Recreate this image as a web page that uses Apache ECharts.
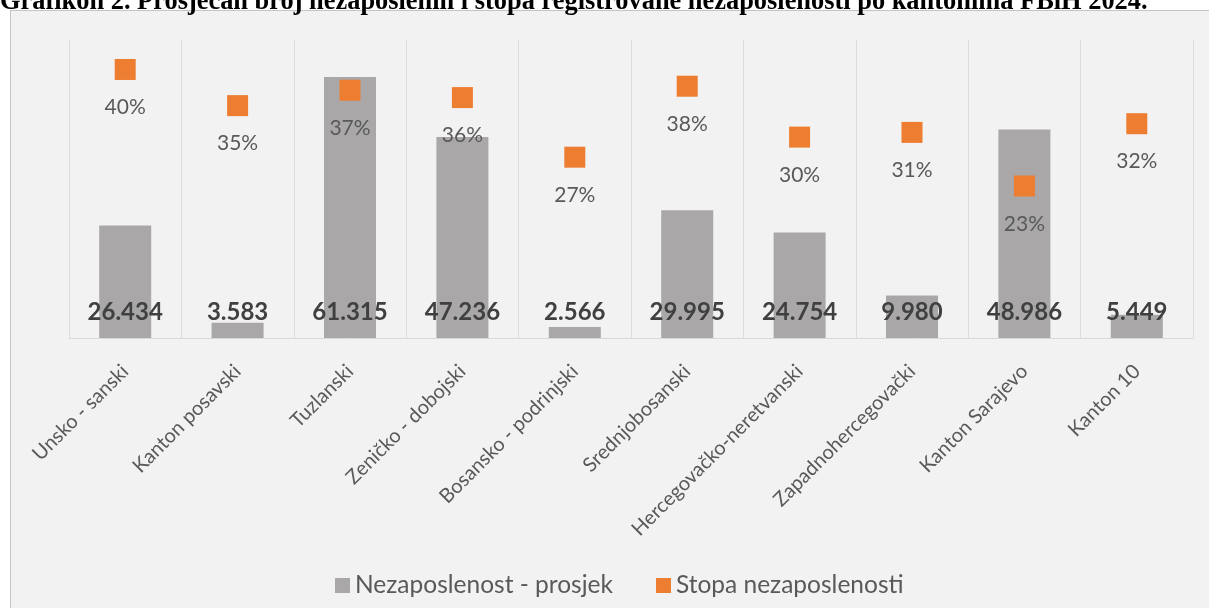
<!DOCTYPE html>
<html>
<head>
<meta charset="utf-8">
<script src="https://cdn.jsdelivr.net/npm/echarts@6/dist/echarts.min.js"></script>
<style>
html, body { margin: 0; padding: 0; background: #ffffff; }
#box { position: absolute; left: 10px; top: 10px; width: 1220px; height: 620px; background: #f2f2f2; border: 1px solid #c4c4c4; box-sizing: border-box; }
#chart { position: absolute; left: 0; top: 0; width: 1209px; height: 608px; }
</style>
</head>
<body>
<div id="box"></div>
<div id="chart"></div>
<script>
const titleText = 'Grafikon 2. Prosječan broj nezaposlenih i stopa registrovane nezaposlenosti po kantonima FBiH 2024.';
const categories = ['Unsko - sanski', 'Kanton posavski', 'Tuzlanski', 'Zeničko - dobojski', 'Bosansko - podrinjski', 'Srednjobosanski', 'Hercegovačko-neretvanski', 'Zapadnohercegovački', 'Kanton Sarajevo', 'Kanton 10'];
const unemployedAvg = [26434, 3583, 61315, 47236, 2566, 29995, 24754, 9980, 48986, 5449];
const unemploymentRate = [0.401, 0.347, 0.370, 0.359, 0.270, 0.376, 0.300, 0.307, 0.227, 0.320];
const seriesNames = ['Nezaposlenost - prosjek', 'Stopa nezaposlenosti'];

const FONT = 'Lato, "Open Sans", sans-serif';
function fmtThousands(v) {
  return String(v).replace(/\B(?=(\d{3})+(?!\d))/g, '.');
}

const chart = echarts.init(document.getElementById('chart'), null, { renderer: 'canvas' });
chart.setOption({
  backgroundColor: 'transparent',
  animation: false,
  graphic: [{
    type: 'text',
    left: 0,
    top: -11,
    style: {
      text: titleText,
      font: 'bold 26.4px "Liberation Serif", "Times New Roman", serif',
      fill: '#000000'
    }
  }],
  legend: {
    left: 330,
    top: 568,
    itemWidth: 15,
    itemHeight: 15,
    itemGap: 43,
    icon: 'rect',
    textStyle: { fontFamily: FONT, fontSize: 24.5, color: '#595959' },
    data: seriesNames
  },
  grid: { left: 69, right: 16, top: 40, bottom: 270, containLabel: false },
  xAxis: {
    type: 'category',
    data: categories,
    boundaryGap: true,
    axisLine: { show: true, lineStyle: { color: '#d9d9d9', width: 1 } },
    axisTick: { show: false },
    splitLine: { show: true, interval: 0, lineStyle: { color: '#dcdcdc', width: 1 } },
    axisLabel: { interval: 0, rotate: 45, margin: 30, fontFamily: FONT, fontSize: 20, color: '#595959' }
  },
  yAxis: [
    { type: 'value', min: 0, max: 70000, show: false, splitLine: { show: false } },
    { type: 'value', min: 0, max: 0.445, show: false, splitLine: { show: false } }
  ],
  series: [
    {
      name: seriesNames[0],
      type: 'bar',
      data: unemployedAvg,
      barWidth: 52,
      itemStyle: { color: '#a9a7a7' },
      label: {
        show: true,
        position: 'insideBottom',
        distance: 14,
        formatter: p => fmtThousands(p.value),
        fontFamily: FONT,
        fontWeight: 'bold',
        fontSize: 24,
        color: '#404040'
      },
      z: 2
    },
    {
      name: seriesNames[1],
      type: 'scatter',
      yAxisIndex: 1,
      data: unemploymentRate,
      symbol: 'rect',
      symbolSize: 21,
      itemStyle: { color: '#ed7d31', opacity: 1 },
      label: {
        show: true,
        position: 'bottom',
        distance: 17,
        formatter: p => Math.round(p.value * 100) + '%',
        fontFamily: FONT,
        fontSize: 21,
        color: '#595959'
      },
      z: 3
    }
  ]
});
</script>
</body>
</html>
